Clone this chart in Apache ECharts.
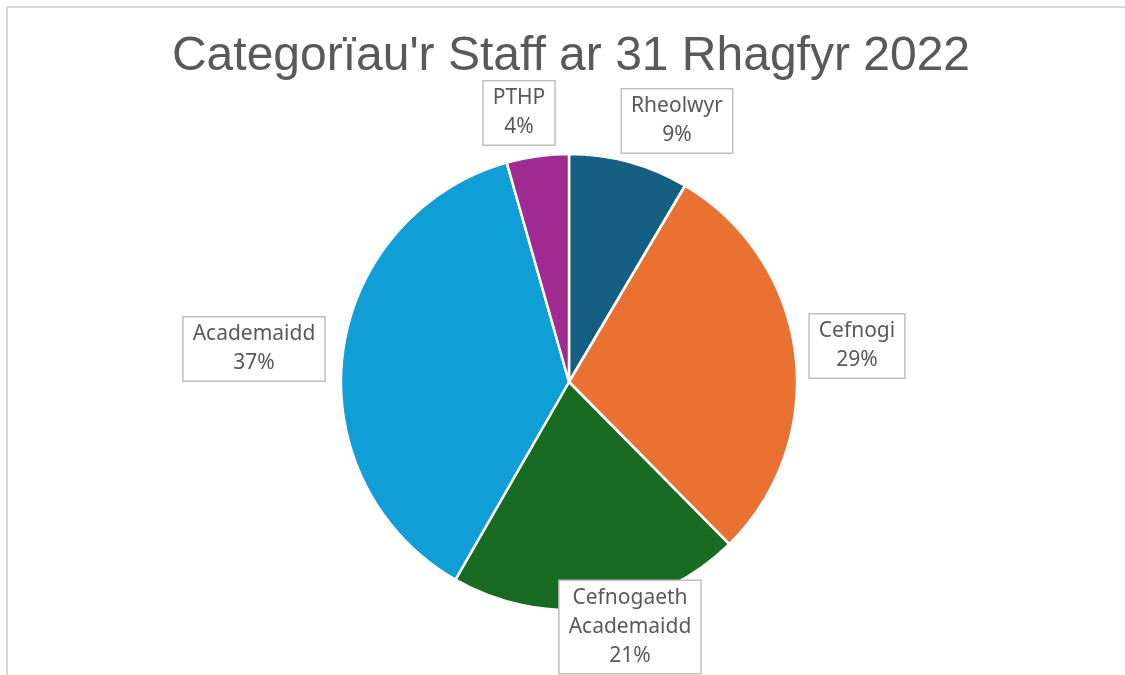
<!DOCTYPE html>
<html>
<head>
<meta charset="utf-8">
<script src="https://cdn.jsdelivr.net/npm/echarts@6/dist/echarts.min.js"></script>
<style>
  html, body { margin: 0; padding: 0; background: #fff; }
  #main { width: 1125px; height: 675px; }
  #frame { position: absolute; left: 6px; top: 6px; width: 1200px; height: 800px;
           border-left: 2px solid #d9d9d9; border-top: 2px solid #d9d9d9; pointer-events: none; }
</style>
</head>
<body>
<div id="main"></div>
<div id="frame"></div>
<script>
var categories = ['Rheolwyr', 'Cefnogi', 'Cefnogaeth\nAcademaidd', 'Academaidd', 'PTHP'];
var values = [8.5, 29.1, 20.7, 37.3, 4.4];
var colors = ['#156082', '#E97132', '#196B24', '#0F9ED5', '#A02B93'];

// where each callout box sits (centre of box)
var labelSpots = [[677, 121], [857, 346], [630, 627], [254, 349], [519, 113]];

var chart = echarts.init(document.getElementById('main'), null, { renderer: 'canvas' });

var data = [];
for (var i = 0; i < categories.length; i++) {
  data.push({ name: categories[i], value: values[i], itemStyle: { color: colors[i] } });
}

var option = {
  title: {
    text: "Categorïau'r Staff ar 31 Rhagfyr 2022",
    left: 566,
    top: 28,
    textAlign: 'center',
    textStyle: {
      fontFamily: 'Liberation Sans, Arial, sans-serif',
      fontSize: 48,
      fontWeight: 'normal',
      color: '#595959'
    }
  },
  series: [{
    type: 'pie',
    center: [569, 382],
    radius: 228,
    startAngle: 90,
    clockwise: true,
    percentPrecision: 0,
    data: data,
    itemStyle: { borderColor: '#fff', borderWidth: 2.5 },
    label: {
      show: true,
      position: 'outside',
      formatter: '{b}\n{d}%',
      fontFamily: 'Noto Sans, sans-serif',
      fontSize: 21,
      lineHeight: 29,
      color: '#595959',
      align: 'center',
      backgroundColor: '#fff',
      borderColor: '#bfbfbf',
      borderWidth: 1.5,
      padding: [3, 9, 2, 9]
    },
    labelLine: { show: false },
    labelLayout: function (params) {
      var p = labelSpots[params.dataIndex];
      return { x: p[0], y: p[1], align: 'center', verticalAlign: 'middle' };
    },
    emphasis: { disabled: true },
    animation: false
  }]
};
chart.setOption(option);
</script>
</body>
</html>
